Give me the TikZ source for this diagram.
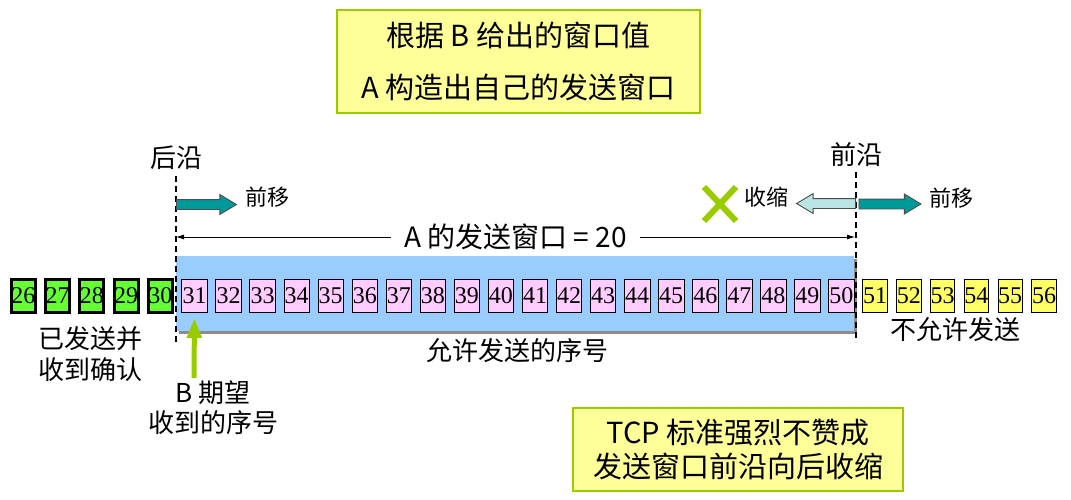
\documentclass[tikz,border=0pt]{standalone}
\usepackage{fontspec}
\usepackage{tikz}
\usetikzlibrary{arrows.meta,shapes.arrows,shapes.misc}
\setmainfont{Liberation Sans}
\newfontfamily\cjk{Noto Sans CJK SC}
\newfontfamily\numfont{Liberation Serif}
\definecolor{notefill}{HTML}{FFFF99}
\definecolor{noteline}{HTML}{99CC00}
\definecolor{winblue}{HTML}{99CCFF}
\definecolor{ackgreen}{HTML}{66FF33}
\definecolor{sendpink}{HTML}{FFCCFF}
\definecolor{waityellow}{HTML}{FFFF66}
\definecolor{moveteal}{HTML}{009999}
\definecolor{shrinkteal}{HTML}{BAE3E3}

\begin{document}
\begin{tikzpicture}[x=1pt,y=-1pt]
        \tikzstyle{note}=[draw=noteline,line width=1.6pt,fill=notefill,align=center,inner sep=0pt,font=\cjk\fontsize{29}{34}\selectfont]
        \tikzstyle{txt}=[align=center,inner sep=0pt,font=\cjk\fontsize{26}{31}\selectfont]
        \tikzstyle{small}=[inner sep=0pt,font=\cjk\fontsize{22}{26}\selectfont]
        \tikzstyle{numbox}=[draw=black,inner sep=0pt,minimum width=25.5,minimum height=33,font=\numfont\fontsize{24}{26}\selectfont]
        \tikzstyle{ackbox}=[numbox,fill=ackgreen,line width=3pt,minimum width=24]
        \tikzstyle{sendbox}=[numbox,fill=sendpink,line width=0.8pt]
        \tikzstyle{waitbox}=[numbox,fill=waityellow,line width=0.8pt,minimum width=24.5]
        \tikzstyle{move}=[single arrow,draw=black!70,line width=0.9pt,inner xsep=0pt,inner ysep=4.5pt,minimum height=60,single arrow head extend=5pt,single arrow tip angle=62,anchor=tail]
        \tikzstyle{edge}=[dashed,line width=2pt,dash pattern=on 6pt off 4pt]
        \useasboundingbox (0,0) rectangle (1071,499);

        % notes
        \node[note,minimum width=363,minimum height=103] (topnote) at (518.5,61.5)
                {根据 B 给出的窗口值\\[18pt]A 构造出自己的发送窗口};
        \node[note,minimum width=330,minimum height=83] (botnote) at (738,449.5)
                {TCP 标准强烈不赞成\\发送窗口前沿向后收缩};

        % the window
        \node[fill=gray!90,minimum width=678,minimum height=75,inner sep=0pt] (winshadow) at (518,296.5) {};
        \node[fill=winblue,minimum width=678,minimum height=75,inner sep=0pt] (win) at (515,293.5) {};

        \foreach \num [evaluate=\num as \x using 23.5+(\num-26)*34.2] in {26,...,30}
                \node[ackbox] (n-\num) at (\x,296) {\num};
        \foreach \num [evaluate=\num as \x using 194.5+(\num-31)*34.05] in {31,...,50}
                \node[sendbox] (n-\num) at (\x,296) {\num};
        \foreach \num [evaluate=\num as \x using 875+(\num-51)*33.8] in {51,...,56}
                \node[waitbox] (n-\num) at (\x,296) {\num};

        % edges of the window
        \coordinate (rear-top) at (176,176);
        \coordinate (rear-bot) at (176,342);
        \coordinate (front-top) at (855.5,172);
        \coordinate (front-bot) at (855.5,342);
        \draw[edge] (rear-top) -- (rear-bot);
        \draw[edge] (front-top) -- (front-bot);
        \node[txt] (rear) at (176,158) {后沿};
        \node[txt] (front) at (856,155) {前沿};

        \coordinate (win-l) at (176,237);
        \coordinate (win-r) at (855,237);
        \draw[line width=0.8pt,{Latex[length=8pt,width=5pt]}-{Latex[length=8pt,width=5pt]}] (win-l) --
                node[txt,fill=white,inner xsep=13pt,font=\cjk\fontsize{28}{32}\selectfont] (winsize) {A 的发送窗口 = 20} (win-r);

        % moves
        \node[move,fill=moveteal] (rear-move) at (176,204.5) {};
        \node[small] (rear-lbl) at (267.5,197) {前移};
        \node[move,fill=moveteal,minimum height=62] (front-move) at (858.5,204) {};
        \node[small] (front-lbl) at (951,198) {前移};
        \node[move,fill=shrinkteal,shape border rotate=180,minimum height=59] (shrink) at (856,203.5) {};
        \node[small] (shrink-lbl) at (766.5,197) {收缩};
        \node[cross out,draw=noteline,line width=6pt,minimum width=26,minimum height=28,inner sep=0pt] (no) at (720,204) {};

        % labels
        \node[txt] (acked) at (90,354.5) {已发送并\\收到确认};
        \node[txt] (allowed) at (517.5,351) {允许发送的序号};
        \node[txt] (notallowed) at (955,330) {不允许发送};
        \node[txt,font=\cjk\fontsize{26}{30}\selectfont] (expect) at (213,408) {B 期望\\收到的序号};
        \coordinate (expect-top) at (194,378);
        \draw[noteline,line width=5pt,-{Triangle[length=20pt,width=14pt]},shorten >=5pt] (expect-top) -- (n-31.south);
\end{tikzpicture}
\end{document}
